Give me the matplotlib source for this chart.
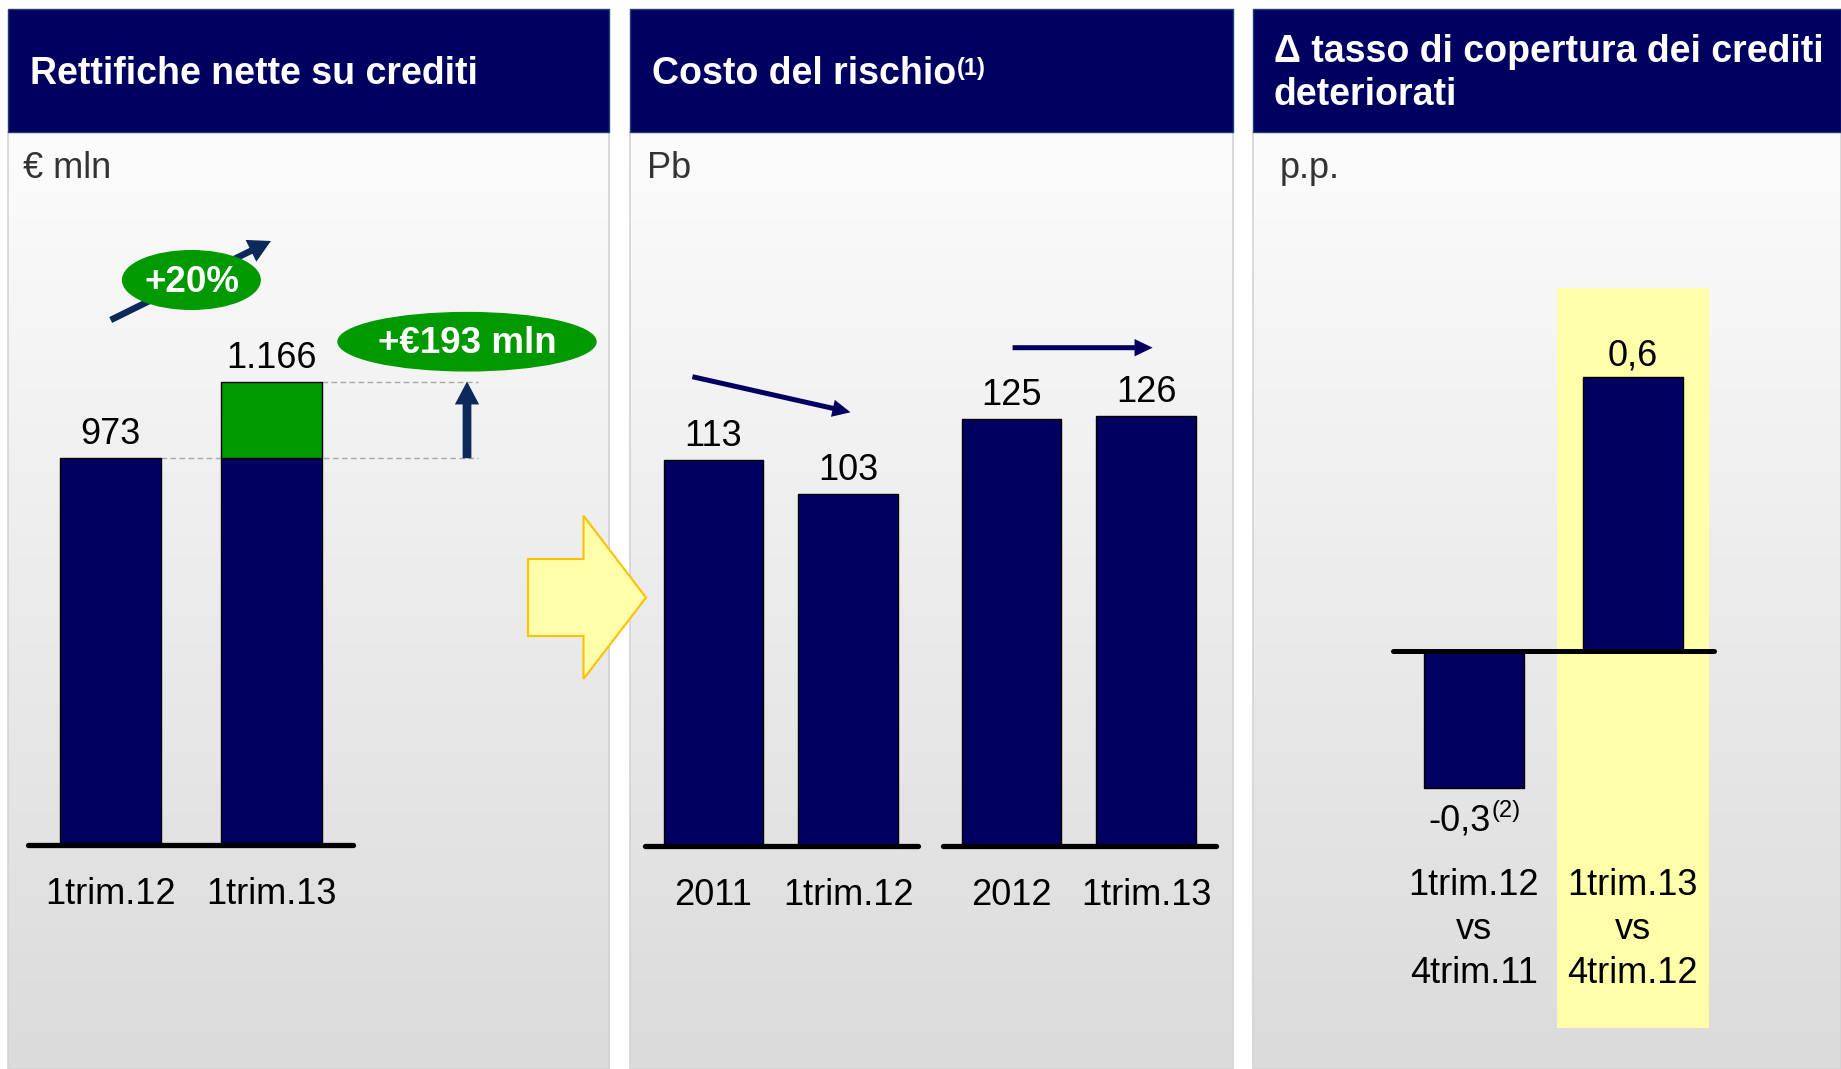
import matplotlib
matplotlib.use("Agg")
import matplotlib.pyplot as plt
import numpy as np
from matplotlib.patches import Ellipse, Polygon, Rectangle, FancyArrowPatch
from matplotlib.colors import LinearSegmentedColormap

plt.rcParams['font.family'] = ['Liberation Sans', 'DejaVu Sans']

# ---------------- data ----------------
header_titles = ["Rettifiche nette su crediti", "Costo del rischio",
                 "Δ tasso di copertura dei crediti\ndeteriorati"]
header_notes = ["", "(1)", ""]
unit_labels = ["€ mln", "Pb", "p.p."]

rett_categories = ["1trim.12", "1trim.13"]
rett_values = [973, 1166]
rett_growth_label = "+20%"
rett_delta_label = "+€193 mln"

cor_categories = ["2011", "1trim.12", "2012", "1trim.13"]
cor_values = [113, 103, 125, 126]

cov_categories = ["1trim.12\nvs\n4trim.11", "1trim.13\nvs\n4trim.12"]
cov_values = [-0.3, 0.6]
cov_notes = ["(2)", ""]

# ---------------- style ----------------
NAVY = "#000060"
GREEN = "#009900"
ARROW1 = "#0B2A5B"
YELLOW = "#FFFFAA"
FS = 26
FS_HEAD = 27

W, H = 1841, 1069
fig = plt.figure(figsize=(W / 100, H / 100), dpi=100)
fig.patch.set_facecolor("white")

bg = fig.add_axes([0, 0, 1, 1])
bg.axis("off")

panels = [(8, 609.5), (630, 1233), (1253, 1841)]
header_top, header_bot = 9, 131.5
grad = np.linspace(0, 1, 256).reshape(-1, 1)
cmap = LinearSegmentedColormap.from_list("g", ["#FCFCFC", "#DBDBDB"])
for (l, r) in panels:
    bg.imshow(grad, extent=(l, r, H, header_bot), cmap=cmap, aspect="auto",
              zorder=0, interpolation="bilinear")
    bg.add_patch(Rectangle((l, header_bot), r - l, H - header_bot, fill=False,
                           edgecolor="#D3D3D3", lw=1.2, zorder=1))
    bg.add_patch(Rectangle((l, header_top), r - l, header_bot - header_top,
                           facecolor=NAVY, edgecolor="#1F3F6F", lw=1, zorder=2))
bg.set_xlim(0, W)
bg.set_ylim(H, 0)

# headers
head_x = [29.7, 651.6, 1273.7]
head_base = [[84], [84], [61.7, 105]]
for t, note, hx, bases in zip(header_titles, header_notes, head_x, head_base):
    lines = t.split("\n")
    last = None
    for ln, by in zip(lines, bases):
        last = bg.text(hx, by, ln, color="white", fontsize=FS_HEAD,
                       fontweight="bold", ha="left", va="baseline", zorder=3)
    if note:
        bg.annotate(note, xy=(1, 1), xycoords=last, xytext=(1, -0.5),
                    textcoords="offset points", color="white", fontsize=17,
                    fontweight="bold", ha="left", va="top", zorder=3)

unit_x = [23, 647, 1280]
for u, ux in zip(unit_labels, unit_x):
    bg.text(ux, 178, u, color="#333333", fontsize=FS, ha="left",
            va="baseline", zorder=3)

# big yellow arrow between panels
bg.add_patch(Polygon([(528, 559), (583.5, 559), (583.5, 515.7), (646, 597.6),
                      (583.5, 679), (583.5, 636), (528, 636)], closed=True,
                     facecolor=YELLOW, edgecolor="#FFC000", lw=1.5, zorder=5))


def data_axes(left, right, x0_px, unit_px, y0_px, yscale,
              top=header_bot, bottom=H):
    ax = fig.add_axes([left / W, 1 - bottom / H, (right - left) / W,
                       (bottom - top) / H])
    ax.set_xlim((left - x0_px) / unit_px, (right - x0_px) / unit_px)
    ax.set_ylim((y0_px - bottom) / yscale, (y0_px - top) / yscale)
    ax.axis("off")
    fx = lambda px: (px - x0_px) / unit_px
    fy = lambda py: (y0_px - py) / yscale
    return ax, fx, fy


def fmt_int(v):
    return f"{v:,}".replace(",", ".")


def fmt_dec(v):
    return f"{v:.1f}".replace(".", ",")


def arrow(ax, p0, p1, color, tail, hl, hw, ms=10, z=6):
    ax.add_patch(FancyArrowPatch(
        p0, p1, arrowstyle=f"simple,head_length={hl},head_width={hw},tail_width={tail}",
        mutation_scale=ms, color=color, lw=0, shrinkA=0, shrinkB=0, zorder=z))


# ---------------- panel 1 ----------------
ax1, fx1, fy1 = data_axes(8, 609.5, 110.3, 161, 845, 0.3975)
x1 = np.arange(len(rett_values))
bw1 = 0.63
base = rett_values[0]
ax1.bar(x1, [min(v, base) for v in rett_values], width=bw1, color=NAVY,
        edgecolor="black", lw=1, zorder=3)
ax1.bar(x1[1:], [v - base for v in rett_values[1:]], bottom=base, width=bw1,
        color=GREEN, edgecolor="black", lw=1, zorder=3)
ax1.plot([x1[0] - 0.51, x1[-1] + 0.51], [0, 0], color="black", lw=3.8,
         solid_capstyle="round", zorder=4)
for xi, v in zip(x1, rett_values):
    ax1.annotate(fmt_int(v), (xi, v), xytext=(0, 10), textcoords="offset points",
                 ha="center", va="baseline", fontsize=FS)
for xi, c in zip(x1, rett_categories):
    ax1.text(xi, fy1(904), c, ha="center", va="baseline", fontsize=FS)
# dashed reference lines + up arrow
ax1.hlines(rett_values, x1 + bw1 / 2, fx1(478), colors="#A8A8A8", lw=1,
           linestyles=(0, (4, 2.5)), zorder=2)
arrow(ax1, (fx1(467), rett_values[0]), (fx1(467), rett_values[1]), ARROW1,
      0.63, 1.65, 1.75)
arrow(ax1, (fx1(110.7), fy1(320)), (fx1(270.9), fy1(241)), ARROW1,
      0.47, 1.6, 1.75)
ax1.add_patch(Ellipse((fx1(191.4), fy1(280)), 137.6 / 161, 58.6 / 0.3975,
                      color=GREEN, zorder=7))
ax1.text(fx1(192), fy1(291.7), rett_growth_label, color="white", fontsize=26.5,
         fontweight="bold", ha="center", va="baseline", zorder=8)
ax1.add_patch(Ellipse((fx1(467), fy1(341.7)), 258 / 161, 58.3 / 0.3975,
                      color=GREEN, zorder=7))
ax1.text(fx1(467), fy1(353), rett_delta_label, color="white", fontsize=26.5,
         fontweight="bold", ha="center", va="baseline", zorder=8)

# ---------------- panel 2 ----------------
ax2, fx2, fy2 = data_axes(630, 1233, 713.5, 134.8, 846, 3.416)
x2 = np.array([0, 1, 2.21, 3.21])
ax2.bar(x2, cor_values, width=0.74, color=NAVY, edgecolor="black", lw=1,
        zorder=3)
for a, b in [(0, 1), (2, 3)]:
    ax2.plot([x2[a] - 0.51, x2[b] + 0.52], [0, 0], color="black", lw=3.8,
             solid_capstyle="round", zorder=4)
for xi, v in zip(x2, cor_values):
    ax2.annotate(fmt_int(v), (xi, v), xytext=(0, 10), textcoords="offset points",
                 ha="center", va="baseline", fontsize=FS)
for xi, c in zip(x2, cor_categories):
    ax2.text(xi, fy2(905), c, ha="center", va="baseline", fontsize=FS)
arrow(ax2, (fx2(692.4), fy2(376.7)), (fx2(850.5), fy2(412.3)), NAVY,
      0.36, 1.3, 1.25)
arrow(ax2, (fx2(1012.6), fy2(347.7)), (fx2(1152.6), fy2(347.7)), NAVY,
      0.36, 1.3, 1.25)

# ---------------- panel 3 ----------------
ax3, fx3, fy3 = data_axes(1253, 1841, 1473.8, 159.1, 651, 456)
x3 = np.arange(len(cov_values))
hl_top, hl_bot = fy3(288.3), fy3(1028.3)
ax3.add_patch(Rectangle((x3[1] - 0.476, hl_bot), 0.952, hl_top - hl_bot,
                        facecolor=YELLOW, edgecolor="none", zorder=1))
ax3.bar(x3, cov_values, width=0.63, color=NAVY, edgecolor="black", lw=1,
        zorder=3)
ax3.plot([x3[0] - 0.51, x3[-1] + 0.51], [0, 0], color="black", lw=3.6,
         solid_capstyle="round", zorder=4)
for xi, v, note in zip(x3, cov_values, cov_notes):
    if v >= 0:
        t = ax3.annotate(fmt_dec(v), (xi, v), xytext=(0, 8.6),
                         textcoords="offset points", ha="center",
                         va="baseline", fontsize=FS, zorder=5)
    else:
        dx = -10.5 if note else 0
        t = ax3.annotate(fmt_dec(v), (xi, v), xytext=(dx, -30.5),
                         textcoords="offset points", ha="center",
                         va="baseline", fontsize=FS, zorder=5)
    if note:
        ax3.annotate(note, xy=(1, 1), xycoords=t, xytext=(0.5, 2),
                     textcoords="offset points", ha="left", va="top",
                     fontsize=17, zorder=5)
for xi, c in zip(x3, cov_categories):
    for i, ln in enumerate(c.split("\n")):
        ax3.text(xi, fy3(895 + 44 * i), ln, ha="center", va="baseline",
                 fontsize=FS, zorder=5)

fig.savefig("out.png", dpi=100)
